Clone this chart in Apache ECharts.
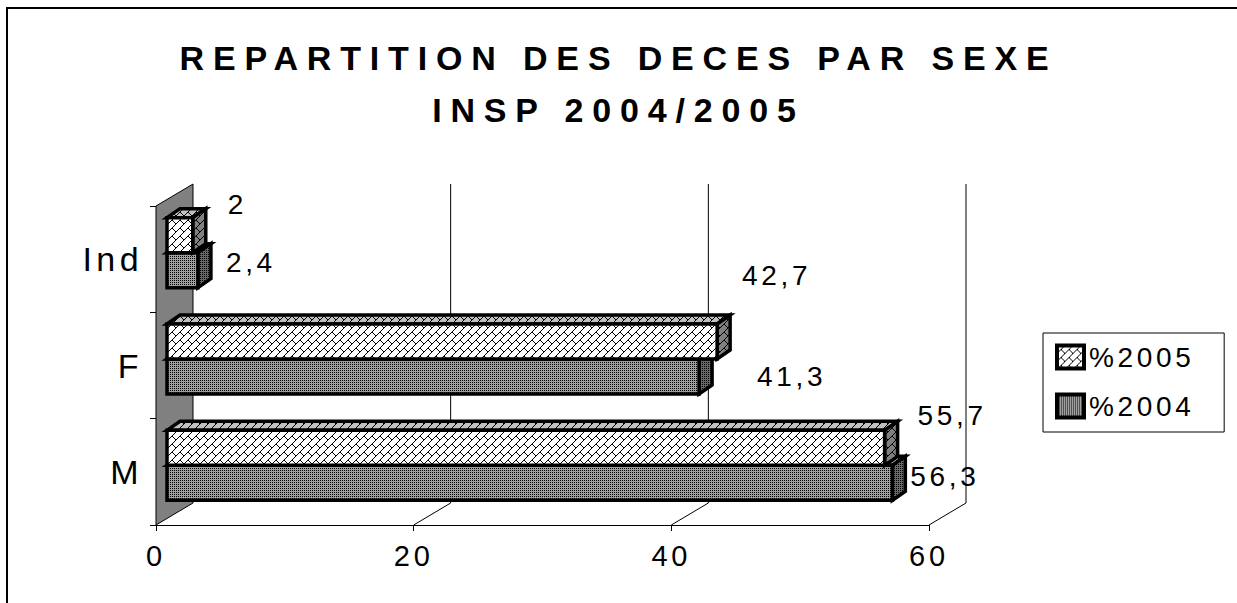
<!DOCTYPE html>
<html>
<head>
<meta charset="utf-8">
<script src="https://cdn.jsdelivr.net/npm/echarts@6/dist/echarts.min.js"></script>
<style>
html, body { margin: 0; padding: 0; background: #fff; }
#main { width: 1237px; height: 603px; }
/* lettres espacées comme dans le graphique Excel d'origine */
#main text, #main tspan { letter-spacing: 0.13em !important; }
#main text[style*="bold"], #main text[style*="bold"] tspan { letter-spacing: 0.26em !important; }
</style>
</head>
<body>
<div id="main"></div>
<script>
var categories = ['M', 'F', 'Ind'];
var values2005 = [55.7, 42.7, 2];
var values2004 = [56.3, 41.3, 2.4];
var xTicks = [0, 20, 40, 60];
var seriesNames = ['%2005', '%2004'];

var FONT = 'Liberation Sans';

// effet 3D
var WALL_DX = 37, WALL_DY = -22;   // profondeur du mur / sol
var BAR_DX = 13, BAR_DY = -9;      // profondeur des barres
var SHIFT_X = 11, SHIFT_Y = -6.5;  // position des barres dans la profondeur
var BAR_H = 35;

// étiquettes déplacées à la main dans l'original : [dx, dy] depuis le coin haut-droit
var labelShift = {
    '%2005': [[33, -15], [25, -49], [35, -13]],
    '%2004': [[18, 11], [58, 17], [28, 10]]
};

// motifs
function makePattern(w, h, bg, fg, pts) {
    var c = document.createElement('canvas');
    c.width = w; c.height = h;
    var ctx = c.getContext('2d');
    ctx.fillStyle = bg;
    ctx.fillRect(0, 0, w, h);
    ctx.fillStyle = fg;
    pts.forEach(function (p) { ctx.fillRect(p[0], p[1], 1, 1); });
    return { image: c, repeat: 'repeat', imageWidth: w, imageHeight: h };
}
// brique diagonale
var brickPts = [];
for (var k = 0; k < 8; k++) brickPts.push([k, 7 - k]);
for (var k = 0; k < 4; k++) brickPts.push([4 + k, 4 + k]);
// petits points
var dotPts = [[0, 0], [2, 2]];

var pat2005 = {
    front: makePattern(8, 8, '#ffffff', '#000000', brickPts),
    top: makePattern(8, 8, '#c0c0c0', '#000000', brickPts),
    side: makePattern(8, 8, '#808080', '#000000', brickPts)
};
var pat2004 = {
    front: makePattern(4, 4, '#a0a0a0', '#000000', dotPts.concat([[2, 0], [0, 2]])),
    top: makePattern(4, 4, '#b0b0b0', '#000000', dotPts),
    side: makePattern(4, 4, '#686868', '#000000', dotPts.concat([[2, 0], [0, 2]]))
};

function fmt(v) {
    return String(v).replace('.', ',');
}

function frameItem(params, api) {
    var cs = params.coordSys;
    var top = cs.y, bottom = cs.y + cs.height;
    var px = api.coord([api.value(0), 0])[0];
    if (api.value(0) === 0) {
        return {
            type: 'polygon',
            shape: { points: [[px, bottom], [px + WALL_DX, bottom + WALL_DY], [px + WALL_DX, top + WALL_DY], [px, top]] },
            style: { fill: '#808080', stroke: '#000', lineWidth: 1 }
        };
    }
    return {
        type: 'polyline',
        shape: { points: [[px, bottom], [px + WALL_DX, bottom + WALL_DY], [px + WALL_DX, top + WALL_DY]] },
        style: { fill: null, stroke: '#000', lineWidth: 1 }
    };
}

function barItem(name, upper, pat) {
    return function (params, api) {
        var v = api.value(0), c = api.value(1);
        var p0 = api.coord([0, c]), p1 = api.coord([v, c]);
        var x0 = p0[0] + SHIFT_X, x1 = p1[0] + SHIFT_X;
        var yc = p0[1] + SHIFT_Y;
        var y0 = upper ? yc - BAR_H : yc;
        var y1 = y0 + BAR_H;
        var line = { stroke: '#000', lineWidth: 3.5, lineJoin: 'miter' };
        var sh = labelShift[name][params.dataIndex];
        return {
            type: 'group',
            children: [
                { type: 'polygon', shape: { points: [[x0, y0], [x0 + BAR_DX, y0 + BAR_DY], [x1 + BAR_DX, y0 + BAR_DY], [x1, y0]] },
                  style: Object.assign({ fill: pat.top }, line) },
                { type: 'polygon', shape: { points: [[x1, y0], [x1 + BAR_DX, y0 + BAR_DY], [x1 + BAR_DX, y1 + BAR_DY], [x1, y1]] },
                  style: Object.assign({ fill: pat.side }, line) },
                { type: 'polygon', shape: { points: [[x0, y0], [x1, y0], [x1, y1], [x0, y1]] },
                  style: Object.assign({ fill: pat.front }, line) },
                { type: 'text', x: x1 + sh[0], y: y0 + sh[1],
                  style: { text: fmt(v), fill: '#000', fontSize: 28, fontFamily: FONT, align: 'left', verticalAlign: 'middle' } }
            ]
        };
    };
}

var chart = echarts.init(document.getElementById('main'), null, { renderer: 'svg' });

var option = {
    backgroundColor: '#fff',
    animation: false,
    title: {
        text: 'REPARTITION DES DECES PAR SEXE\nINSP 2004/2005',
        left: 'center',
        top: 32,
        padding: [0, 0, 0, 34],
        textStyle: { fontSize: 34, fontWeight: 'bold', fontFamily: FONT, color: '#000', lineHeight: 52 }
    },
    legend: {
        orient: 'vertical',
        left: 1043,
        top: 333,
        padding: [10, 48, 12, 12],
        itemWidth: 27,
        itemHeight: 23,
        itemGap: 21,
        borderColor: '#000',
        borderWidth: 1,
        selectedMode: false,
        textStyle: { fontSize: 28, fontFamily: FONT, color: '#000' },
        data: [
            { name: seriesNames[0], icon: 'rect', itemStyle: { color: pat2005.front, borderColor: '#000', borderWidth: 4 } },
            { name: seriesNames[1], icon: 'rect', itemStyle: { color: pat2004.front, borderColor: '#000', borderWidth: 4 } }
        ]
    },
    grid: { left: 156, right: 308, top: 206, bottom: 78 },
    xAxis: {
        type: 'value',
        min: 0,
        max: 60,
        interval: 20,
        axisLine: { show: true, lineStyle: { color: '#000', width: 1 } },
        axisTick: { show: true, length: 6, lineStyle: { color: '#000' } },
        axisLabel: { fontSize: 29, fontFamily: FONT, color: '#000', margin: 16 },
        splitLine: { show: false }
    },
    yAxis: {
        type: 'category',
        data: categories,
        axisLine: { show: false },
        axisTick: { show: true, length: 6, lineStyle: { color: '#000' } },
        axisLabel: { fontSize: 34, fontFamily: FONT, color: '#000', margin: 13 }
    },
    graphic: [{
        type: 'rect',
        shape: { x: 7, y: 8, width: 1300, height: 700 },
        style: { fill: 'none', stroke: '#000', lineWidth: 2 },
        silent: true
    }],
    series: [
        {
            name: 'cadre',
            type: 'custom',
            renderItem: frameItem,
            data: xTicks.map(function (t) { return [t]; }),
            encode: { x: 0 },
            silent: true,
            z: 1
        },
        {
            name: seriesNames[1],
            type: 'custom',
            renderItem: barItem(seriesNames[1], false, pat2004),
            data: values2004.map(function (v, i) { return [v, i]; }),
            encode: { x: 0, y: 1 },
            z: 2
        },
        {
            name: seriesNames[0],
            type: 'custom',
            renderItem: barItem(seriesNames[0], true, pat2005),
            data: values2005.map(function (v, i) { return [v, i]; }),
            encode: { x: 0, y: 1 },
            z: 3
        }
    ]
};
chart.setOption(option);
</script>
</body>
</html>
